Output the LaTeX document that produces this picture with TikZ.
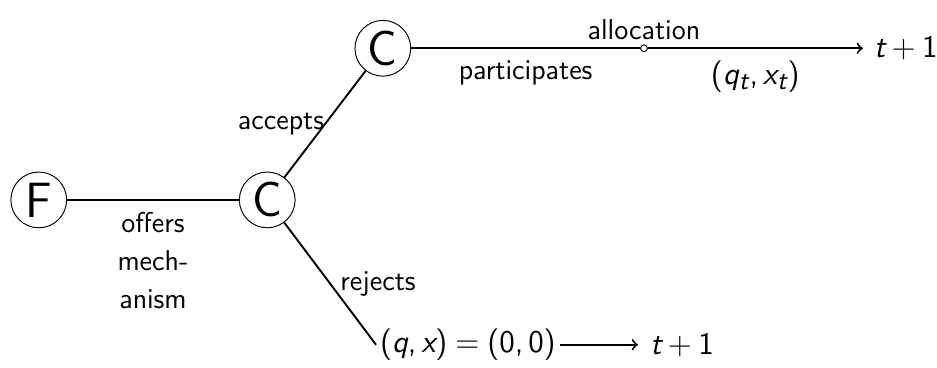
\documentclass[tikz,border=0pt]{standalone}
\renewcommand{\familydefault}{\sfdefault}
\usepackage[italic]{mathastext}
\usetikzlibrary{positioning}
\begin{document}
\begin{tikzpicture}[font=\large,
                    player/.style={draw, circle, minimum size=0.82cm, inner sep=0pt, font=\huge},
                    hole/.style={draw, circle, fill=white, minimum size=0.1cm, inner sep=0pt},
                    mathlbl/.style={font=\fontsize{13.2}{16}\selectfont},
                    branch/.style={thick}]
                    \useasboundingbox (0,0) rectangle (13.78,-5.40);
                    % Players
                    \node[player] (F) at (0.57,-2.94) {F};
                    \node[player] (C1) at (3.93,-2.94) {C};
                    \node[player] (C2) at (5.63,-0.71) {C};
                    % Firm offers
                    \draw[branch] (F) -- (C1) node[midway, below=0.05cm, align=center, text width=1.5cm] {offers\\[0.07cm] mech-\\[0.07cm] anism};
                    % Accept branch
                    \draw[branch] (C1) -- (C2) node[midway, left, inner sep=0pt] {accepts};
                    \node[hole] (dot) at (9.47,-0.71) {};
                    \node[mathlbl, anchor=west, inner xsep=4.5pt] (next1) at (12.69,-0.71) {$t+1$};
                    \draw[branch] (C2) -- (dot) node[midway, below=0.05cm] {participates};
                    \node[above=-0.05cm of dot] {allocation};
                    \draw[branch, ->] (dot) -- (next1) node[mathlbl, midway, below=0.05cm] {$(q_t,x_t)$};
                    % Reject branch
                    \coordinate (rej) at (5.53,-5.07);
                    \draw[branch] (C1) -- (rej) node[midway, right=0.02cm] {rejects};
                    \node[mathlbl, anchor=west, inner xsep=1.5pt] (zero) at (rej) {$(q,x)=(0,0)$};
                    \node[mathlbl, right=1.15cm of zero, inner xsep=5pt] (next2) {$t+1$};
                    \draw[branch, ->] (zero) -- (next2);
                \end{tikzpicture}
\end{document}
